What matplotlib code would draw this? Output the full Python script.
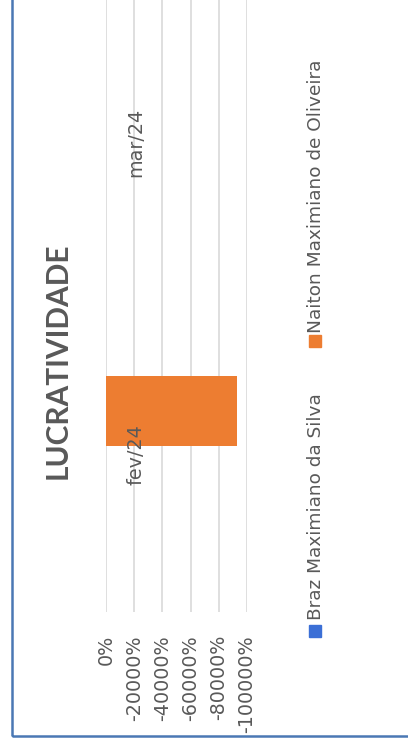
import numpy as np
import matplotlib
matplotlib.use('Agg')
import matplotlib.pyplot as plt
from matplotlib.patches import Rectangle
from matplotlib.ticker import FuncFormatter
import matplotlib.transforms as mtransforms

title = 'LUCRATIVIDADE'
months = ['fev/24', 'mar/24']
series_names = ['Braz Maximiano da Silva', 'Naiton Maximiano de Oliveira']
braz = [0, 0]            # lucratividade em %
naiton = [-92900, 0]
value_ticks = [0, -20000, -40000, -60000, -80000, -100000]

blue = '#3b6fd6'
orange = '#ed7d31'
gray_txt = '#595959'
grid_c = '#d9d9d9'

fig = plt.figure(figsize=(4.08, 7.48), dpi=100)
W, H = 408.0, 748.0

# chart is drawn rotated: categories run bottom->top, values left->right
ax = fig.add_axes([106 / W, (H - 611.5) / H, 141 / W, 626 / H])
pos = np.arange(len(months))
bw = 0.224
off = 0.14
ax.barh(pos - off, braz, height=bw, color=blue)
ax.barh(pos + off, naiton, height=bw, color=orange)

ax.set_xlim(0, -100000)
ax.set_ylim(-0.5, 1.5)
ax.set_xticks(value_ticks)
ax.xaxis.set_major_formatter(FuncFormatter(lambda v, p: '%.0f%%' % v))
ax.tick_params(axis='x', length=0, pad=17, labelsize=13.8, labelcolor=gray_txt,
               labelrotation=90)
for lab in ax.get_xticklabels():
    lab.set_va('top')
ax.set_yticks([])
ax.grid(axis='x', color=grid_c, linewidth=1.2)
ax.set_axisbelow(True)
for s in ax.spines.values():
    s.set_visible(False)
ax.patch.set_alpha(0)

trans = mtransforms.blended_transform_factory(ax.transAxes, ax.transData)
for i, m in enumerate(months):
    ax.text(0.213, i, m, transform=trans, rotation=90, ha='center', va='center',
            fontsize=13.8, color=gray_txt)

fig.text(58 / W, (H - 361) / H, title, rotation=90, ha='center', va='center',
         fontsize=21.5, fontweight='bold', color=gray_txt,
         family=['Lato', 'DejaVu Sans'])

# legend (rotated)
leg = [(series_names[0], blue, 637, 620), (series_names[1], orange, 347, 333)]
for name, col, mk_bottom, txt_start in leg:
    fig.patches.append(Rectangle((309 / W, (H - mk_bottom) / H), 12 / W, 12 / H,
                                 transform=fig.transFigure, color=col))
    fig.text(316 / W, (H - txt_start) / H, name, rotation=90, ha='center',
             va='bottom', fontsize=13.3, color=gray_txt)

# chart frame (only left and bottom edges are inside the picture)
fig.patches.append(Rectangle((12 / W, (H - 736) / H), 2.0, 2.0,
                             transform=fig.transFigure, fill=False,
                             edgecolor='#4a78b4', linewidth=1.8))

fig.savefig('out.png', dpi=100)
